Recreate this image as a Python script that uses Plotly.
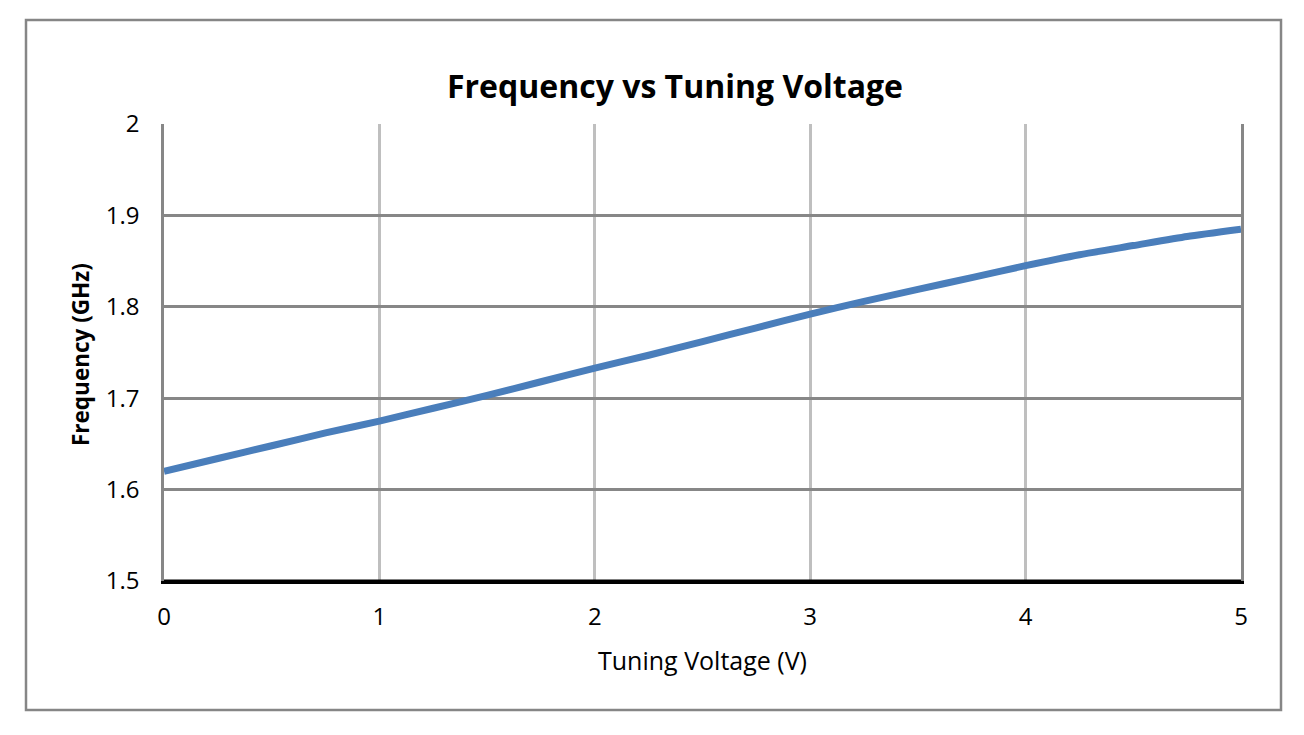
import plotly.graph_objects as go

voltage = [0, 0.25, 0.5, 0.75, 1, 1.25, 1.5, 1.75, 2, 2.25, 2.5, 2.75, 3,
           3.25, 3.5, 3.75, 4, 4.25, 4.5, 4.75, 5]
frequency = [1.620, 1.634, 1.648, 1.662, 1.675, 1.689, 1.703, 1.718, 1.733,
             1.747, 1.762, 1.777, 1.792, 1.806, 1.819, 1.832, 1.845, 1.857,
             1.867, 1.877, 1.885]
x_ticks = [0, 1, 2, 3, 4, 5]
y_ticks = [1.5, 1.6, 1.7, 1.8, 1.9, 2]
y_tick_labels = ["1.5", "1.6", "1.7", "1.8", "1.9", "2"]

FONT = "Open Sans, Noto Sans, sans-serif"

# page body margin offset
OFF = 8
L, R, T, B = 164 - OFF, 1241 - OFF, 124 - OFF, 581 - OFF
W, H = 1304 - 2 * OFF, 735 - 2 * OFF
pw, ph = R - L, B - T


def px(xp):
    return (xp - OFF - L) / pw


def py(yp):
    return (B - (yp - OFF)) / ph


fig = go.Figure()
fig.add_trace(go.Scatter(
    x=voltage, y=frequency, mode="lines",
    line=dict(color="#4a7ebb", width=7, shape="spline", smoothing=0.6),
    showlegend=False, hoverinfo="x+y",
))

fig.update_layout(
    width=W, height=H,
    margin=dict(l=L, r=W - R, t=T, b=H - B, pad=0),
    paper_bgcolor="white", plot_bgcolor="white",
    font=dict(family=FONT, size=24, color="black"),
    xaxis=dict(
        range=[0, 5], tickvals=x_ticks, ticktext=[str(v) for v in x_ticks],
        showgrid=True, gridcolor="#bfbfbf", gridwidth=2.5,
        showline=True, linecolor="black", linewidth=3,
        zeroline=False, ticks="", ticklabelstandoff=12,
        tickfont=dict(family=FONT, size=24, color="black"),
        fixedrange=True,
    ),
    yaxis=dict(
        range=[1.5, 2], tickvals=y_ticks, ticktext=y_tick_labels,
        showgrid=True, gridcolor="#878787", gridwidth=2.5,
        showline=True, linecolor="#878787", linewidth=2.5, mirror=True,
        zeroline=False, ticks="", ticklabelstandoff=17,
        tickfont=dict(family=FONT, size=24, color="black"),
        fixedrange=True,
    ),
    shapes=[
        dict(type="rect", xref="paper", yref="paper",
             x0=px(26), x1=px(1281), y0=py(710), y1=py(20),
             line=dict(color="#868686", width=2.5), fillcolor="rgba(0,0,0,0)",
             layer="below"),
        dict(type="line", xref="paper", yref="paper",
             x0=0, x1=1, y0=0, y1=0,
             line=dict(color="black", width=3)),
    ],
    annotations=[
        dict(text="<b>Frequency vs Tuning Voltage</b>", xref="paper", yref="paper",
             x=px(675), y=py(86), xanchor="center", yanchor="middle",
             showarrow=False, font=dict(family=FONT, size=32, color="black")),
        dict(text="Tuning Voltage (V)", xref="paper", yref="paper",
             x=px(702), y=py(660), xanchor="center", yanchor="middle",
             showarrow=False, font=dict(family=FONT, size=25, color="black")),
        dict(text="<b>Frequency (GHz)</b>", xref="paper", yref="paper",
             x=px(80), y=py(355), xanchor="center", yanchor="middle",
             textangle=-90, showarrow=False,
             font=dict(family=FONT, size=22.5, color="black")),
    ],
)

fig.write_html("out.html")
